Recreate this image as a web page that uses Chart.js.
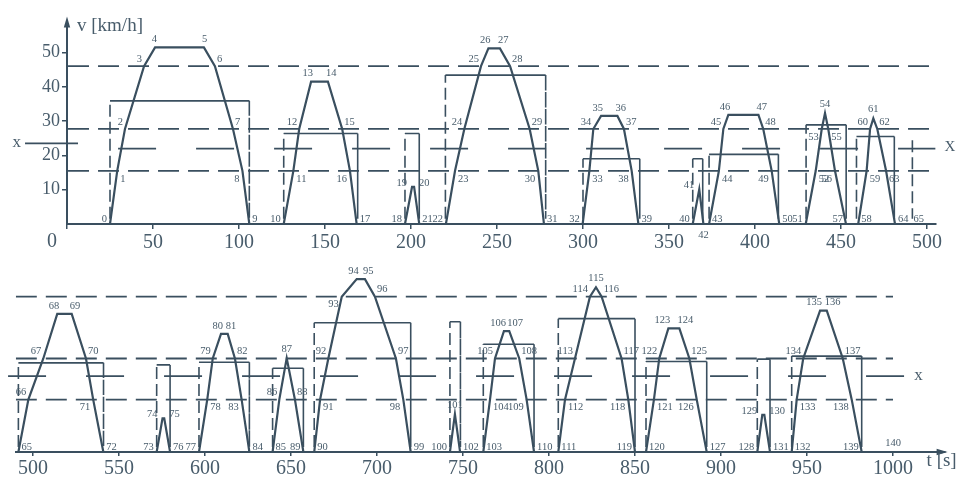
<!DOCTYPE html>
<html>
<head>
<meta charset="utf-8">
<script src="https://cdn.jsdelivr.net/npm/chart.js@4/dist/chart.umd.min.js"></script>
<style>
  html, body { margin: 0; padding: 0; background: #ffffff; }
  body { width: 965px; height: 478px; position: relative; overflow: hidden; }
  #c1 { position: absolute; left: 0; top: 0; }
  #c2 { position: absolute; left: 0; top: 258px; }
</style>
</head>
<body>
<canvas id="c1" width="965" height="258"></canvas>
<canvas id="c2" width="965" height="220"></canvas>
<script>
// ---------------- DATA ----------------
// upper panel: 0 ... 500 s
const topIds = [0,1,2,3,4,5,6,7,8,9,10,11,12,13,14,15,16,17,18,19,20,21,22,23,24,25,26,27,28,29,30,31,32,33,34,35,36,37,38,39,40,41,42,43,44,45,46,47,48,49,50,51,52,53,54,55,56,57,58,59,60,61,62,63,64,65];
const topTime = [25,29.2,33.7,44.8,51.2,79.6,86,96.5,102,106,
  126,131.6,135,141.9,151.7,160,164.5,168.4,
  196.5,200.6,201.8,204.8,
  220.3,225.6,231,240.7,245,251.7,257.6,269,274,277.3,
  299.8,303.7,306,310.5,320,323.8,328.3,332.2,
  363.8,367.6,370,
  373.3,379,381.6,384.5,402,404.8,409.7,414.1,
  429.5,435.3,438.8,440.7,442.6,446.5,452.9,
  460,464.9,466.9,468.8,471.1,476.2,481.4,500];
const topSpeed = [0,15.5,27.7,46,51.5,51.5,46,27.7,15.5,0,
  0,15.5,27.7,41.5,41.5,27.7,15.5,0,
  0,10.8,10.8,0,
  0,15.5,27.7,46,51.2,51.2,46,27.7,15.5,0,
  0,15.5,27.7,31.5,31.5,27.7,15.5,0,
  0,10.1,0,
  0,15.5,27.7,31.8,31.8,27.7,15.5,0,
  0,15.5,27.7,32.3,27.7,15.5,0,
  0,15.5,27.7,30.8,27.7,15.5,0,0];

// lower panel: 500 ... 1000 s
const botIds = [65,66,67,68,69,70,71,72,73,74,75,76,77,78,79,80,81,82,83,84,85,86,87,88,89,90,91,92,93,94,95,96,97,98,99,100,101,102,103,104,105,106,107,108,109,110,111,112,113,114,115,116,117,118,119,120,121,122,123,124,125,126,127,128,129,130,131,132,133,134,135,136,137,138,139,140];
const botTime = [491.5,497.3,506,514.1,522.5,530.8,535,540.9,
  571.9,575.3,576.3,579.7,
  596.5,601.3,604.5,609.3,613.2,617.4,621.3,625.8,
  639.3,643.2,647.5,652.3,657.2,
  663.5,666.9,671.7,679.5,688.2,693,698.8,711,715.3,719.6,
  742.4,745.3,748.3,
  761.8,765.7,768.6,773.8,776.9,782.7,787,791.3,
  805.4,809.3,815.1,823.8,827.3,830.6,842.2,846.1,850,
  856.4,861,864.1,869.4,875.8,881.6,885.9,891.7,
  921.1,924,925.2,928.5,
  941.1,944,947.8,957.6,961.5,970.8,976,981.8,1000];
const botSpeed = [0,15.5,27.7,40.9,40.9,27.7,15.5,0,
  0,10,10,0,
  0,15.5,27.7,35,35,27.7,15.5,0,
  0,15.5,27.8,15.5,0,
  0,15.5,27.7,46,51.2,51.2,46,27.7,15.5,0,
  0,11.2,0,
  0,15.5,27.7,35.8,35.8,27.7,15.5,0,
  0,15.5,27.7,46,48.8,46,27.7,15.5,0,
  0,15.5,27.7,36.6,36.6,27.7,15.5,0,
  0,11,11,0,
  0,15.5,27.7,41.9,41.9,27.7,15.5,0,0];

// threshold levels (km/h)
const levelHigh = 46;
const levelMid = 27.7;
const levelLow = 15.5;
const levelXTop = 22;
const levelXBot = 22.5;
const levelXMark = 23.5;

// trip windows (brackets)
const topWinStart = [25,126,196.5,220,300,363.8,373.3,429.7,459];
const topWinEnd   = [106,169,204.8,278.3,333,369.6,413.6,453,481];
const topWinTop   = [35.9,26.4,26.4,43.4,19,19,20.3,28.9,25.5];
const botWinStart = [491.5,571.9,596.5,639.3,663.5,742.4,761.8,805.4,856.4,921.1,941.1];
const botWinEnd   = [541,579.7,625.8,657.2,719.6,748.5,791.3,850,891.7,928.5,981.8];
const botWinTop   = [26.4,25.8,26.6,24.8,38.3,38.6,31.9,39.5,26.8,27.5,28.4];

// axis ticks
const topTicks = [0,50,100,150,200,250,300,350,400,450,500];
const botTicks = [500,550,600,650,700,750,800,850,900,950,1000];
const speedTicks = [10,20,30,40,50];

// ---------------- STYLE ----------------
const LINE = '#3a4f5f';
const TEXT = '#485c6b';
const SERIF = '"Liberation Serif", "DejaVu Serif", "Times New Roman", serif';
const FOOT = 1.5;

// label placement: [align, dx, dy]
const PLACE = {
  L: ['right', -3, -5], R: ['left', 3, -5],
  LA: ['right', -2, -7], RA: ['left', 2, -7],
  LB: ['right', -3, 8], RB: ['left', 3, 8],
  AL: ['right', 2, -8], AR: ['left', -2, -8],
  A: ['center', 0, -9], B: ['center', 0, 11],
  LM: ['right', -5, -4], RM: ['left', 5, -4]
};
const topOverride = {19:'LM', 20:'RM', 41:'LM', 42:'B', 43:'R', 53:'LB', 55:'RB', 57:'L', 58:'R', 63:'RB', 65:'L'};
const botOverride = {65:'R', 66:'LA', 74:'LM', 75:'RM', 85:'R', 86:'LA', 88:'RA', 89:'L', 90:'R', 93:'LB',
  103:'R', 111:'R', 119:'L', 120:'R', 129:'LM', 130:'RM', 132:'R', 139:'L', 140:'A'};

function placement(vs, i, overrides, id) {
  if (overrides[id]) return overrides[id];
  const v = vs[i];
  const pv = i > 0 ? vs[i - 1] : null;
  const nv = i < vs.length - 1 ? vs[i + 1] : null;
  if (v === 0) {
    if (nv !== null && nv > 0) return 'L';
    if (pv !== null && pv > 0) return 'R';
    return 'L';
  }
  const rising = nv !== null && nv > v;
  const falling = pv !== null && pv > v;
  if (!rising && !falling) {
    if (nv === v) return 'AL';
    if (pv === v) return 'AR';
    return 'A';
  }
  if (rising) return v < 20 ? 'RB' : 'LA';
  return v < 20 ? 'LB' : 'RA';
}

function pts(ts, vs) { return ts.map((t, i) => ({x: t, y: vs[i]})); }
function hline(x0, x1, y) { return [{x: x0, y: y}, {x: x1, y: y}]; }
function windows(starts, ends, tops) {
  const d = [];
  starts.forEach((s, i) => {
    d.push({x: s, y: FOOT}, {x: s, y: tops[i]}, {x: ends[i], y: tops[i]}, {x: ends[i], y: FOOT}, {x: ends[i], y: null});
  });
  return d;
}

function lineDs(data, extra) {
  return Object.assign({
    data: data, borderColor: LINE, borderWidth: 1.8, pointRadius: 0, tension: 0,
    fill: false, spanGaps: false
  }, extra || {});
}

function windowDs(data) {
  return lineDs(data, {
    borderWidth: 1.6,
    segment: { borderDash: ctx => (ctx.p0.parsed.x === ctx.p1.parsed.x ? [12, 5] : []) }
  });
}

function drawLabels(chart, dsIndex, ids, vs, overrides) {
  const ctx = chart.ctx;
  const meta = chart.getDatasetMeta(dsIndex);
  ctx.save();
  ctx.fillStyle = TEXT;
  ctx.font = '10.5px ' + SERIF;
  ctx.textBaseline = 'middle';
  meta.data.forEach((el, i) => {
    const p = PLACE[placement(vs, i, overrides, ids[i])];
    ctx.textAlign = p[0];
    ctx.fillText(String(ids[i]), el.x + p[1], el.y + p[2]);
  });
  ctx.restore();
}

function text(ctx, s, x, y, size, align) {
  ctx.save();
  ctx.fillStyle = TEXT;
  ctx.font = size + 'px ' + SERIF;
  ctx.textAlign = align;
  ctx.textBaseline = 'middle';
  ctx.fillText(s, x, y);
  ctx.restore();
}

const commonPlugins = { legend: { display: false }, tooltip: { enabled: false } };

// ---------------- TOP CHART ----------------
const topDatasets = [
  windowDs(windows(topWinStart, topWinEnd, topWinTop)),
  lineDs([{x: botWinStart[0], y: botWinTop[0] - 2}, {x: botWinStart[0], y: FOOT}], {borderWidth: 1.6, borderDash: [12, 5]}),
  lineDs(hline(0.6, 503, levelHigh), {borderDash: [21, 9]}),
  lineDs(hline(0.6, 503, levelMid), {borderDash: [21, 9]}),
  lineDs(hline(0.6, 503, levelLow), {borderDash: [21, 9]}),
  lineDs(hline(29.7, 505, levelXTop), {borderDash: [38, 40]}),
  lineDs(hline(-24.4, 6.4, levelXMark), {clip: false}),
  lineDs(pts(topTime, topSpeed), {borderWidth: 2.2})
];
const TOP_SPEED_DS = topDatasets.length - 1;

const topDecor = {
  id: 'topDecor',
  afterDraw(chart) {
    const ctx = chart.ctx, xs = chart.scales.x, ys = chart.scales.y;
    drawLabels(chart, TOP_SPEED_DS, topIds, topSpeed, topOverride);
    // y-axis arrow
    const ax = xs.getPixelForValue(0), top = chart.chartArea.top;
    ctx.save();
    ctx.fillStyle = LINE;
    ctx.beginPath();
    ctx.moveTo(ax, top - 5); ctx.lineTo(ax - 3.2, top + 6); ctx.lineTo(ax + 3.2, top + 6); ctx.closePath();
    ctx.fill();
    ctx.restore();
    text(ctx, 'v [km/h]', ax + 10, top + 4, 19, 'left');
    text(ctx, '0', ax - 15, chart.chartArea.bottom + 18, 20, 'center');
    // x marks
    text(ctx, 'x', xs.getPixelForValue(-24.4) - 4, ys.getPixelForValue(levelXMark) - 1, 17, 'right');
    text(ctx, 'X', xs.getPixelForValue(505) + 9, ys.getPixelForValue(levelXTop) - 1, 15, 'left');
  }
};

new Chart(document.getElementById('c1'), {
  type: 'line',
  data: { datasets: topDatasets },
  options: {
    responsive: false, animation: false, devicePixelRatio: 1,
    layout: { padding: { left: 0, right: 29.4, top: 21.6, bottom: 0 } },
    plugins: commonPlugins,
    scales: {
      x: {
        type: 'linear', min: 0, max: 505,
        afterBuildTicks: s => { s.ticks = topTicks.map(v => ({value: v})); },
        afterFit: s => { s.height = 34; },
        ticks: { font: {family: SERIF, size: 20}, color: TEXT, padding: 2, maxRotation: 0, autoSkip: false,
                 callback: v => (v === 0 ? '' : String(v)) },
        grid: { display: true, drawOnChartArea: false, drawTicks: true, tickLength: 5, color: LINE, lineWidth: 1.5 },
        border: { display: true, color: LINE, width: 2 }
      },
      y: {
        type: 'linear', min: 0, max: 59,
        afterBuildTicks: s => { s.ticks = speedTicks.map(v => ({value: v})); },
        afterFit: s => { s.width = 67; },
        ticks: { font: {family: SERIF, size: 18}, color: TEXT, padding: 2 },
        grid: { display: true, drawOnChartArea: false, drawTicks: true, tickLength: 5, color: LINE, lineWidth: 1.5 },
        border: { display: true, color: LINE, width: 2 }
      }
    }
  },
  plugins: [topDecor]
});

// ---------------- BOTTOM CHART ----------------
const botDatasets = [
  windowDs(windows(botWinStart, botWinEnd, botWinTop)),
  lineDs(hline(490, 1000, levelHigh), {borderDash: [21, 9]}),
  lineDs(hline(490, 1000, levelMid), {borderDash: [21, 9]}),
  lineDs(hline(490, 1000, levelLow), {borderDash: [21, 9]}),
  lineDs(hline(485.5, 1010, levelXBot), {borderDash: [38, 40], clip: false}),
  lineDs(pts(botTime, botSpeed), {borderWidth: 2.2})
];
const BOT_SPEED_DS = botDatasets.length - 1;

const botDecor = {
  id: 'botDecor',
  afterDraw(chart) {
    const ctx = chart.ctx, xs = chart.scales.x, ys = chart.scales.y;
    drawLabels(chart, BOT_SPEED_DS, botIds, botSpeed, botOverride);
    const right = chart.chartArea.right, base = chart.chartArea.bottom;
    ctx.save();
    ctx.fillStyle = LINE;
    ctx.beginPath();
    ctx.moveTo(right + 3, base); ctx.lineTo(right - 8, base - 3.2); ctx.lineTo(right - 8, base + 3.2); ctx.closePath();
    ctx.fill();
    ctx.restore();
    text(ctx, 't [s]', right - 18, base + 9, 19, 'left');
    text(ctx, 'x', xs.getPixelForValue(1010) + 4, ys.getPixelForValue(levelXBot) - 1, 17, 'left');
  }
};

new Chart(document.getElementById('c2'), {
  type: 'line',
  data: { datasets: botDatasets },
  options: {
    responsive: false, animation: false, devicePixelRatio: 1,
    layout: { padding: { left: 15.8, right: 20.4, top: 8, bottom: 0 } },
    plugins: commonPlugins,
    scales: {
      x: {
        type: 'linear', min: 490, max: 1030,
        afterBuildTicks: s => { s.ticks = botTicks.map(v => ({value: v})); },
        afterFit: s => { s.height = 26; },
        ticks: { font: {family: SERIF, size: 20}, color: TEXT, padding: 1, maxRotation: 0, autoSkip: false,
                 callback: v => String(v) },
        grid: { display: true, drawOnChartArea: false, drawTicks: true, tickLength: 4, color: LINE, lineWidth: 1.5 },
        border: { display: true, color: LINE, width: 2 }
      },
      y: { type: 'linear', min: 0, max: 55.09, display: false }
    }
  },
  plugins: [botDecor]
});
</script>
</body>
</html>
